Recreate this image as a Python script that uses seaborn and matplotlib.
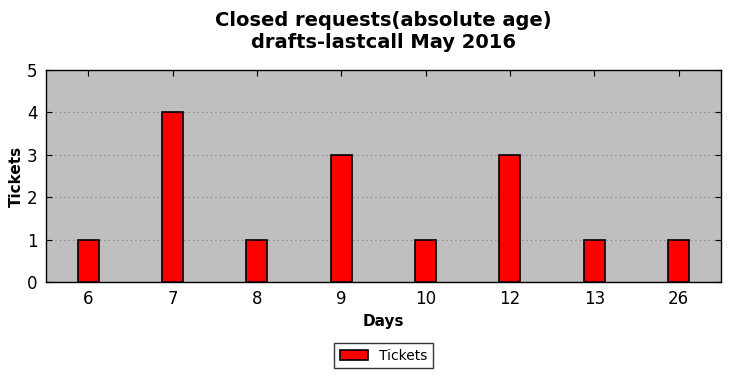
import pandas as pd
import numpy as np
import matplotlib.pyplot as plt
import seaborn as sns

days = ["6", "7", "8", "9", "10", "12", "13", "26"]
tickets = [1, 4, 1, 3, 1, 3, 1, 1]

df = pd.DataFrame({"Days": days, "Tickets": tickets})

plt.rcParams["font.family"] = ["DejaVu Sans"]
fig = plt.figure(figsize=(7.31, 3.78), dpi=100)
ax = fig.add_axes([0.063, 0.254, 0.923, 0.561])
ax.set_facecolor("#bfbfbf")

sns.barplot(data=df, x="Days", y="Tickets", color="#ff0000", edgecolor="black",
            linewidth=1.2, width=0.25, saturation=1, label="Tickets", ax=ax, zorder=3)

ax.set_xlim(-0.5, len(days) - 0.5)
ax.set_ylim(0, 5)
ax.set_yticks(range(0, 6))
ax.yaxis.grid(True, linestyle=(0, (1, 3)), color="#808080", linewidth=0.8, zorder=0)
ax.set_axisbelow(True)
ax.tick_params(axis="both", which="both", direction="in", top=True, right=True,
               labelsize=12, length=4, pad=6)
for s in ax.spines.values():
    s.set_linewidth(1.0)
    s.set_color("black")

ax.set_xlabel("Days", fontsize=11, fontweight="bold")
ax.set_ylabel("Tickets", fontsize=11, fontweight="bold", labelpad=2)
ax.set_title("Closed requests(absolute age)\ndrafts-lastcall May 2016",
             fontsize=14, fontweight="bold", pad=16)

ax.legend(loc="upper center", bbox_to_anchor=(0.5, -0.255), fontsize=10,
          frameon=True, fancybox=False, edgecolor="black", handlelength=2)

fig.savefig("out.png", dpi=100)
